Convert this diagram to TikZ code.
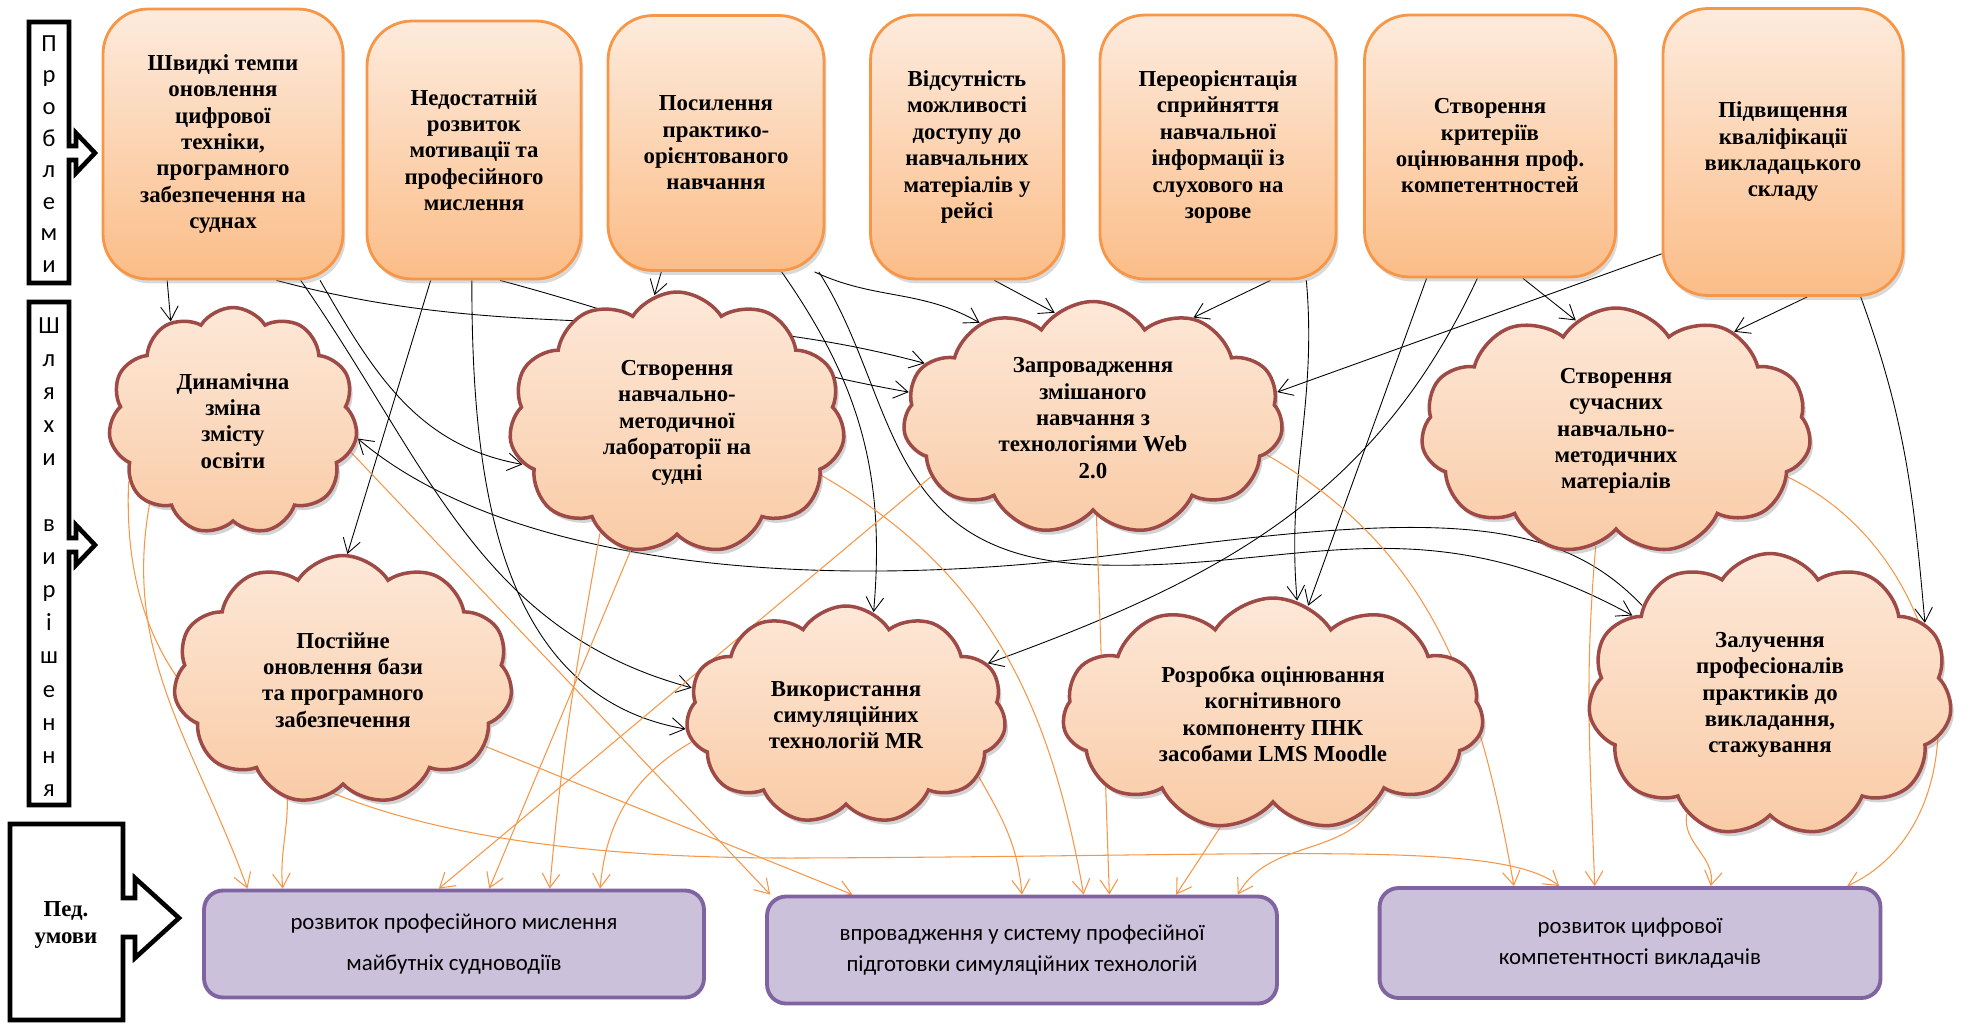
\documentclass[tikz,border=0pt]{standalone}
\usepackage{fontspec}
\setmainfont{Liberation Serif}
\newfontfamily\calib{Carlito}
\usetikzlibrary{shapes.symbols,shadows,arrows.meta,calc}

\definecolor{boxedge}{HTML}{F79646}
\definecolor{boxtop}{HTML}{FDEBDD}
\definecolor{boxbot}{HTML}{FBBD88}
\definecolor{cloudedge}{HTML}{9E4A46}
\definecolor{cloudtop}{HTML}{FDE8D8}
\definecolor{cloudbot}{HTML}{F9CBA6}
\definecolor{condfill}{HTML}{CCC1DA}
\definecolor{condedge}{HTML}{8064A2}
\definecolor{linkorange}{HTML}{F79646}

\pgfdeclarelayer{links}
\pgfsetlayers{links,main}

\tikzset{
  problem/.style={draw=boxedge, line width=1.6pt, rounded corners=0.9cm,
    top color=boxtop, bottom color=boxbot, align=center,
    font=\fontsize{13}{15}\selectfont\bfseries,
    drop shadow={opacity=0.3, shadow xshift=0.05cm, shadow yshift=-0.09cm}},
  way/.style={cloud, cloud puffs=11, cloud puff arc=115, draw=cloudedge,
    line width=2pt, top color=cloudtop, bottom color=cloudbot, align=center,
    inner sep=0pt, font=\fontsize{13}{15}\selectfont\bfseries,
    drop shadow={opacity=0.35, shadow xshift=0.06cm, shadow yshift=-0.09cm}},
  condition/.style={draw=condedge, line width=2.2pt, rounded corners=0.38cm,
    fill=condfill, align=center, font=\calib\fontsize{13}{18}\selectfont},
  sidebox/.style={draw=black, line width=2.6pt, fill=white},
  sidetext/.style={align=center, inner sep=0pt, font=\calib\fontsize{14}{18}\selectfont},
  darklink/.style={draw=black, line width=0.5pt, -{Straight Barb[length=8pt,width=10pt]}},
  orangelink/.style={draw=linkorange, line width=0.6pt, -{Straight Barb[length=8pt,width=10pt]}},
}

\begin{document}
\begin{tikzpicture}[x=0.02cm, y=-0.02cm]
\useasboundingbox (0,0) rectangle (1973,1024);

% side labels
\draw[sidebox] (29,22) -- (69,22) -- (69,146) -- (76,146) -- (76,133) -- (95,153) -- (76,173) -- (76,160) -- (69,160) -- (69,283) -- (29,283) -- cycle;
\node[sidetext] (probl) at (49,154) {П\\р\\о\\б\\л\\е\\м\\и};
\draw[sidebox] (29,302) -- (69,302) -- (69,538) -- (76,538) -- (76,525) -- (95,545) -- (76,565) -- (76,552) -- (69,552) -- (69,805) -- (29,805) -- cycle;
\node[sidetext, font=\calib\fontsize{14}{18.8}\selectfont] (ways) at (49,557) {Ш\\л\\я\\х\\и\\[18.8pt]в\\и\\р\\і\\ш\\е\\н\\н\\я};
\draw[sidebox] (10,824) -- (123,824) -- (123,898) -- (135,898) -- (135,878) -- (179,918) -- (135,958) -- (135,937) -- (123,937) -- (123,1020) -- (10,1020) -- cycle;
\node[align=center, font=\fontsize{13}{15}\selectfont\bfseries] (ped) at (66,925) {Пед.\\умови};

% problems
\node[problem, minimum width=4.8cm, minimum height=5.4cm] (p1) at (223,144) {Швидкі темпи\\оновлення\\цифрової\\техніки,\\програмного\\забезпечення на\\суднах};
\node[problem, minimum width=4.28cm, minimum height=5.16cm] (p2) at (474,150) {Недостатній\\розвиток\\мотивації та\\професійного\\мислення};
\node[problem, minimum width=4.32cm, minimum height=5.1cm] (p3) at (716,143) {Посилення\\практико-\\орієнтованого\\навчання};
\node[problem, minimum width=3.86cm, minimum height=5.28cm] (p4) at (967,147) {Відсутність\\можливості\\доступу до\\навчальних\\матеріалів у\\рейсі};
\node[problem, minimum width=4.72cm, minimum height=5.28cm] (p5) at (1218,147) {Переорієнтація\\сприйняття\\навчальної\\інформації із\\слухового на\\зорове};
\node[problem, minimum width=5.02cm, minimum height=5.24cm] (p6) at (1490,146) {Створення\\критеріїв\\оцінювання проф.\\компетентностей};
\node[problem, minimum width=4.8cm, minimum height=5.74cm] (p7) at (1783,152) {Підвищення\\кваліфікації\\викладацького\\складу};

% ways
\node[way, minimum width=4.98cm, minimum height=4.54cm, aspect=1.1] (c1) at (233,421) {Динамічна\\зміна\\змісту\\освіти};
\node[way, minimum width=6.72cm, minimum height=5.24cm, aspect=1.28] (c2) at (677,423) {Створення\\навчально-\\методичної\\лабораторії на\\судні};
\node[way, minimum width=7.6cm, minimum height=4.66cm, aspect=1.63] (c3) at (1093,418) {Запровадження\\змішаного\\навчання з\\технологіями Web\\2.0};
\node[way, minimum width=7.8cm, minimum height=4.92cm, aspect=1.58] (c4) at (1616,431) {Створення\\сучасних\\навчально-\\методичних\\матеріалів};
\node[way, minimum width=6.78cm, minimum height=4.98cm, aspect=1.36] (c5) at (343,680) {Постійне\\оновлення бази\\та програмного\\забезпечення};
\node[way, minimum width=6.4cm, minimum height=4.36cm, aspect=1.47] (c6) at (846,715) {Використання\\симуляційних\\технологій MR};
\node[way, minimum width=8.42cm, minimum height=4.64cm, aspect=1.81] (c7) at (1273,714) {Розробка оцінювання\\когнітивного\\компоненту ПНК\\засобами LMS Moodle};
\node[way, minimum width=7.28cm, minimum height=5.66cm, aspect=1.29] (c8) at (1770,695) {Залучення\\професіоналів\\практиків до\\викладання,\\стажування};

% conditions
\node[condition, minimum width=10cm, minimum height=2.14cm] (b1) at (454,944) {розвиток професійного мислення\\[5.5pt]майбутніх судноводіїв};
\node[condition, minimum width=10.2cm, minimum height=2.14cm] (b2) at (1022,950) {впровадження у систему професійної\\підготовки симуляційних технологій};
\node[condition, minimum width=10.02cm, minimum height=2.2cm] (b3) at (1630,943) {розвиток цифрової\\компетентності викладачів};

\begin{pgfonlayer}{links}
% problems to ways
\draw[darklink] ($(p1.south west)!.27!(p1.south east)$) -- (c1.122);
\draw[darklink] ($(p1.south west)!.9!(p1.south east)$) to[out=-60,in=170] (c2.195);
\draw[darklink] ($(p1.south west)!.72!(p1.south east)$) to[out=-15,in=165] (c3.162);
\draw[darklink] ($(p1.south west)!.82!(p1.south east)$) to[out=-55,in=165] (c6.170);
\draw[darklink] ($(p2.south west)!.3!(p2.south east)$) -- (c5.88);
\draw[darklink] ($(p2.south west)!.49!(p2.south east)$) to[out=-90,in=170] (c6.185);
\draw[darklink] ($(p2.south west)!.62!(p2.south east)$) to[out=-15,in=170] (c3.172);
\draw[darklink] ($(p3.south west)!.25!(p3.south east)$) -- (c2.100);
\draw[darklink] ($(p3.south west)!.8!(p3.south east)$) to[out=-55,in=85] (c6.75);
\draw[darklink] ($(p3.south west)!.95!(p3.south east)$) to[out=-25,in=150] (c3.140);
\draw[darklink] ($(p3.south west)!.97!(p3.south east)$) .. controls (900,400) and (880,560) .. (1100,565) .. controls (1300,570) and (1420,500) .. (c8.150);
\draw[darklink] ($(p4.south west)!.64!(p4.south east)$) -- (c3.110);
\draw[darklink] ($(p5.south west)!.72!(p5.south east)$) -- (c3.45);
\draw[darklink] ($(p5.south west)!.87!(p5.south east)$) to[out=-85,in=95] (c7.78);
\draw[darklink] ($(p6.south west)!.25!(p6.south east)$) -- (c7.72);
\draw[darklink] ($(p6.south west)!.45!(p6.south east)$) to[out=-115,in=20] (c6.20);
\draw[darklink] ($(p6.south west)!.63!(p6.south east)$) -- (c4.110);
\draw[darklink] (p7.220) -- (c3.8);
\draw[darklink] ($(p7.south west)!.6!(p7.south east)$) -- (c4.40);
\draw[darklink] ($(p7.south west)!.82!(p7.south east)$) to[out=-70,in=95] (c8.25);
\draw[darklink] (c8.145) .. controls (1560,520) and (1450,510) .. (1150,550) .. controls (800,600) and (500,560) .. (c1.-8);

% ways to conditions
\draw[orangelink] (c1.-135) to[out=-100,in=110] ($(b1.north west)!.09!(b1.north east)$);
\draw[orangelink] (c5.-115) to[out=-90,in=95] ($(b1.north west)!.16!(b1.north east)$);
\draw[orangelink] (c3.200) -- ($(b1.north west)!.47!(b1.north east)$);
\draw[orangelink] (c2.-110) -- ($(b1.north west)!.57!(b1.north east)$);
\draw[orangelink] (c2.-125) to[out=-100,in=85] ($(b1.north west)!.69!(b1.north east)$);
\draw[orangelink] (c6.190) to[out=-150,in=85] ($(b1.north west)!.79!(b1.north east)$);
\draw[orangelink] (c1.-15) -- ($(b2.north west)!.01!(b2.north east)$);
\draw[orangelink] (c5.-25) -- ($(b2.north west)!.17!(b2.north east)$);
\draw[orangelink] (c6.-25) to[out=-60,in=95] ($(b2.north west)!.5!(b2.north east)$);
\draw[orangelink] (c2.-20) to[out=-30,in=100] ($(b2.north west)!.62!(b2.north east)$);
\draw[orangelink] (c3.-88) -- ($(b2.north west)!.67!(b2.north east)$);
\draw[orangelink] (c7.-115) -- ($(b2.north west)!.8!(b2.north east)$);
\draw[orangelink] (c7.-40) to[out=-120,in=60] ($(b2.north west)!.92!(b2.north east)$);
\draw[orangelink] (c3.-12) to[out=-30,in=100] ($(b3.north west)!.27!(b3.north east)$);
\draw[orangelink] (c1.-150) .. controls (120,700) and (250,860) .. (800,858) .. controls (1300,856) and (1500,840) .. ($(b3.north west)!.36!(b3.north east)$);
\draw[orangelink] (c4.-100) to[out=-95,in=92] ($(b3.north west)!.43!(b3.north east)$);
\draw[orangelink] (c8.-125) to[out=-100,in=80] ($(b3.north west)!.66!(b3.north east)$);
\draw[orangelink] (c4.-15) .. controls (1960,560) and (1990,820) .. ($(b3.north west)!.93!(b3.north east)$);
\end{pgfonlayer}
\end{tikzpicture}
\end{document}
